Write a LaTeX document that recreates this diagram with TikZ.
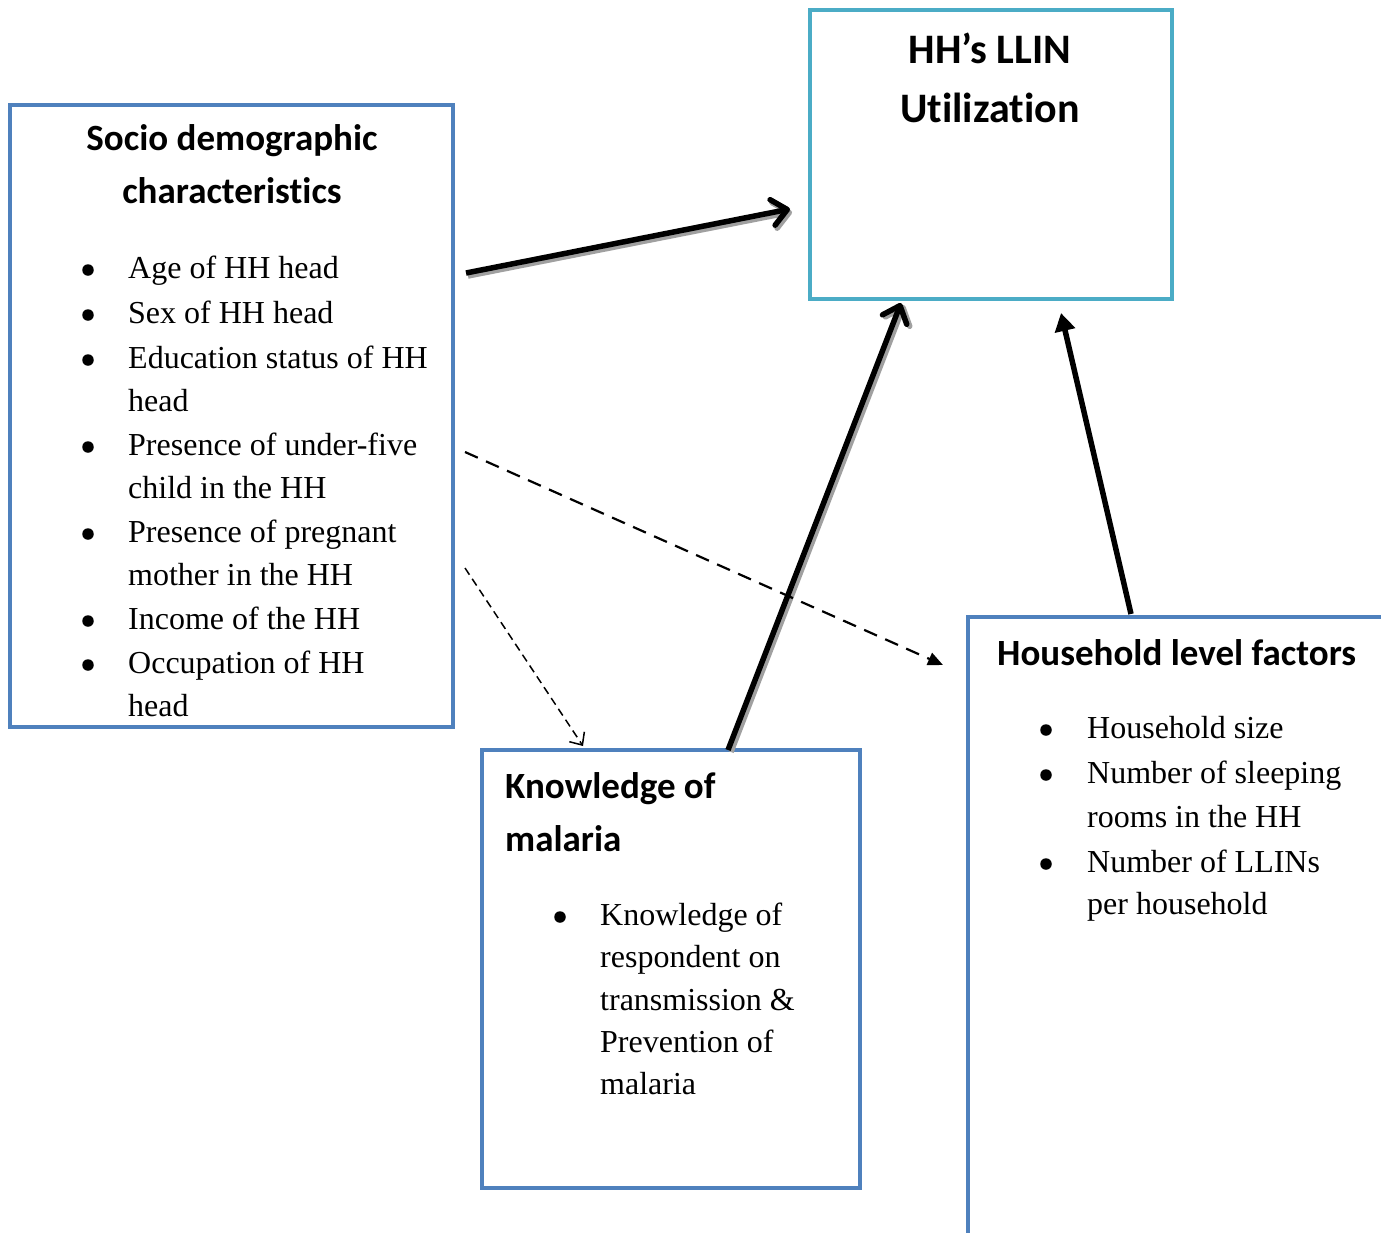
\documentclass[tikz,border=0pt]{standalone}
\usepackage{fontspec}
\setmainfont{Liberation Serif}
\newfontfamily\hdfont{Carlito}[Ligatures={NoCommon,NoContextual}]
\usetikzlibrary{arrows.meta}
\definecolor{boxblue}{HTML}{4F81BD}
\definecolor{boxteal}{HTML}{4BACC6}
\definecolor{shadowgray}{HTML}{A0A0A0}
\begin{document}
\begin{tikzpicture}[x=1pt,y=-1pt,
  box/.style={draw=boxblue,line width=4pt,rectangle,anchor=north west,inner sep=0pt,outer sep=0pt},
  hd/.style={font=\hdfont\bfseries\fontsize{37}{44}\selectfont,inner sep=0pt},
  bighd/.style={font=\hdfont\bfseries\fontsize{42}{50}\selectfont,inner sep=0pt},
  tx/.style={font=\fontsize{32}{38}\selectfont,inner sep=0pt,anchor=base west},
  bul/.style={circle,fill=black,inner sep=0pt,minimum size=11.5pt},
  openarrow/.style={line width=5.5pt,-{Straight Barb[length=15pt,width=26pt,round]}},
  shadowarrow/.style={line width=5.5pt,draw=shadowgray,-{Straight Barb[length=15pt,width=26pt,round]}},
  fillarrow/.style={line width=5.5pt,-{Triangle[length=18pt,width=20pt]}},
  dasharrow/.style={line width=2.2pt,dash pattern=on 14pt off 9pt,-{Triangle[length=15pt,width=13pt]}},
  thindash/.style={line width=1.5pt,dash pattern=on 8pt off 5pt,-{Straight Barb[length=10pt,width=18pt]}}
]
\useasboundingbox (0,0) rectangle (1381,1232);
\clip (0,0) rectangle (1381,1232);
\fill[white] (0,0) rectangle (1381,1232);

% boxes
\node[box,minimum width=443pt,minimum height=622pt] (socio) at (10,105) {};
\node[box,draw=boxteal,minimum width=362pt,minimum height=289pt] (llin) at (810,10) {};
\node[box,minimum width=378pt,minimum height=438pt] (know) at (482,750) {};
\node[box,minimum width=460pt,minimum height=700pt] (house) at (968,617) {};

% Socio demographic
\node[hd,anchor=base] (sh1) at (232,150) {Socio demographic};
\node[hd,anchor=base] (sh2) at (232,203) {characterist\kern0pt ics};
\node[bul] (sb1) at (88,270) {};
\node[tx] (st1) at (128,278) {Age of HH head};
\node[bul] (sb2) at (88,315) {};
\node[tx] (st2) at (128,323) {Sex of HH head};
\node[bul] (sb3) at (88,360) {};
\node[tx] (st3) at (128,368) {Education status of HH};
\node[tx] (st4) at (128,411) {head};
\node[bul] (sb4) at (88,447) {};
\node[tx] (st5) at (128,455) {Presence of under-five};
\node[tx] (st6) at (128,498) {child in the HH};
\node[bul] (sb5) at (88,534) {};
\node[tx] (st7) at (128,542) {Presence of pregnant};
\node[tx] (st8) at (128,585) {mother in the HH};
\node[bul] (sb6) at (88,621) {};
\node[tx] (st9) at (128,629) {Income of the HH};
\node[bul] (sb7) at (88,665) {};
\node[tx] (st10) at (128,673) {Occupation of HH};
\node[tx] (st11) at (128,716) {head};

% LLIN
\node[bighd,anchor=base] (lh1) at (990,63) {HH’s LLIN};
\node[bighd,anchor=base] (lh2) at (990,122) {Ut\kern0pt ilizat\kern0pt ion};

% Knowledge
\node[hd,anchor=base west] (kh1) at (505,798) {Knowledge of};
\node[hd,anchor=base west] (kh2) at (505,851) {malaria};
\node[bul] (kb1) at (560,917) {};
\node[tx] (kt1) at (600,925) {Knowledge of};
\node[tx] (kt2) at (600,967) {respondent on};
\node[tx] (kt3) at (600,1010) {transmission \&};
\node[tx] (kt4) at (600,1052) {Prevention of};
\node[tx] (kt5) at (600,1094) {malaria};

% Household
\node[hd,anchor=base west] (hh1) at (997,665) {Household level factors};
\node[bul] (hb1) at (1046,730) {};
\node[tx] (ht1) at (1087,738) {Household size};
\node[bul] (hb2) at (1046,775) {};
\node[tx] (ht2) at (1087,783) {Number of sleeping};
\node[tx] (ht3) at (1087,827) {rooms in the HH};
\node[bul] (hb3) at (1046,864) {};
\node[tx] (ht4) at (1087,872) {Number of LLINs};
\node[tx] (ht5) at (1087,914) {per household};

% arrow end points
\coordinate (a1s) at (466,273);
\coordinate (a1e) at (790,209);
\coordinate (a2s) at (728,750);
\coordinate (a2e) at (901,303);
\coordinate (a3s) at (1131,614);
\coordinate (a3e) at (1061,313);
\coordinate (a4s) at (465,452);
\coordinate (a4e) at (943,665);
\coordinate (a5s) at (465,568);
\coordinate (a5e) at (583,746);

% shadows
\draw[shadowarrow] ([shift={(2,3)}]a1s) -- ([shift={(2,3)}]a1e);
\draw[shadowarrow] ([shift={(3,2)}]a2s) -- ([shift={(3,2)}]a2e);
% arrows
\draw[openarrow] (a1s) -- (a1e);
\draw[openarrow] (a2s) -- (a2e);
\draw[fillarrow] (a3s) -- (a3e);
\draw[dasharrow] (a4s) -- (a4e);
\draw[thindash] (a5s) -- (a5e);
\end{tikzpicture}
\end{document}
